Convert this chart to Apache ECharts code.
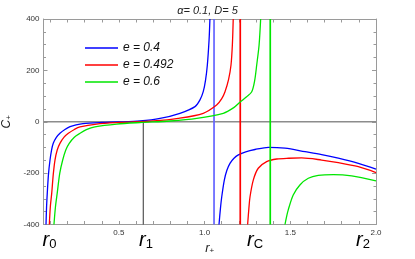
<!DOCTYPE html>
<html><head><meta charset="utf-8">
<script src="https://cdn.jsdelivr.net/npm/echarts@6/dist/echarts.min.js"></script>
<style>html,body{margin:0;padding:0;background:#fff}#c{width:415px;height:259px}</style>
</head><body><div id="c"></div>
<script>
// ---- axis settings ----
const X_MIN = 0.06, X_MAX = 2.0;
const Y_MIN = -400, Y_MAX = 400;
const xTickValues = [0.1, 0.2, 0.3, 0.4, 0.5, 0.6, 0.7, 0.8, 0.9, 1.0, 1.1, 1.2, 1.3, 1.4, 1.5, 1.6, 1.7, 1.8, 1.9, 2.0];
const xLabelValues = [0.5, 1.0, 1.5, 2.0];
const titleText = 'α= 0.1, D= 5';
const seriesNames = ['e = 0.4', 'e = 0.492', 'e = 0.6'];
const seriesColors = ['#0000ff', '#ff0000', '#00e600'];
const asymptoteColors = ['#6464ff', '#ff0000', '#00e600'];

// ---- e = 0.4 (blue) ----
const blueLeftR = [0.0746, 0.078, 0.082, 0.089, 0.098, 0.107, 0.117, 0.135, 0.156, 0.185, 0.215, 0.25, 0.29, 0.40, 0.50, 0.623, 0.740, 0.856, 0.944, 0.973, 0.992, 1.005, 1.016, 1.026, 1.031];
const blueLeftC = [-400, -330, -278, -205, -149, -110, -84, -61, -45, -30, -19, -12, -7, -3, -1, 3, 13, 33, 59, 85, 117, 160, 221, 318, 400];
const blueRightR = [1.084, 1.092, 1.100, 1.115, 1.130, 1.148, 1.170, 1.197, 1.240, 1.294, 1.372, 1.469, 1.586, 1.683, 1.780, 1.897, 2.0];
const blueRightC = [-400, -340, -292, -227, -189, -162, -143, -129, -117, -108, -99.5, -103, -116.5, -128, -142, -162, -184];

// ---- e = 0.492 (red) ----
const redLeftR = [0.094, 0.100, 0.108, 0.117, 0.127, 0.140, 0.156, 0.180, 0.205, 0.240, 0.273, 0.370, 0.506, 0.701, 0.846, 0.992, 1.070, 1.100, 1.119, 1.140, 1.154, 1.162, 1.167];
const redLeftC = [-400, -330, -278, -205, -149, -110, -84, -60, -45, -30, -20, -9, -3, 3, 13, 33, 65, 90, 117, 165, 221, 300, 400];
const redRightR = [1.251, 1.258, 1.265, 1.284, 1.313, 1.362, 1.421, 1.490, 1.566, 1.683, 1.780, 1.897, 2.0];
const redRightC = [-400, -340, -292, -227, -181, -155, -145, -142, -141, -149, -159, -175, -198];

// ---- e = 0.6 (green) ----
const greenLeftR = [0.121, 0.130, 0.140, 0.155, 0.172, 0.190, 0.210, 0.240, 0.273, 0.310, 0.360, 0.487, 0.623, 0.798, 0.954, 1.109, 1.170, 1.206, 1.245, 1.275, 1.292, 1.304, 1.318, 1.327];
const greenLeftC = [-400, -330, -278, -200, -149, -110, -84, -60, -45, -31, -20, -9, -3, 3, 13, 33, 55, 76, 97, 117, 160, 221, 300, 400];
const greenRightR = [1.469, 1.478, 1.488, 1.517, 1.556, 1.605, 1.663, 1.751, 1.858, 2.0];
const greenRightC = [-400, -370, -343, -285, -246, -220, -209, -206, -211, -230];

// ---- vertical marker lines ----
const asymptoteR = [1.055, 1.208, 1.383];
const r1LineR = 0.642;
const r1LineC = [0, -400];

// ---- special radius labels under the axis ----
const markSubs = ['0', '1', 'C', '2'];
const markR = [0.095, 0.658, 1.294, 1.924];

const zip = (rs, cs) => rs.map((r, i) => [r, cs[i]]);
const branches = [
  [zip(blueLeftR, blueLeftC), zip(blueRightR, blueRightC)],
  [zip(redLeftR, redLeftC), zip(redRightR, redRightC)],
  [zip(greenLeftR, greenLeftC), zip(greenRightR, greenRightC)]
];

const FONT = 'Liberation Sans';
const frameColor = '#9a9a9a';

const series = [];
series.push({
  type: 'line', name: 'zero', data: [[X_MIN, 0], [X_MAX, 0]], symbol: 'none', silent: true,
  lineStyle: { color: '#8c8c8c', width: 1.6 }, z: 1
});
series.push({
  type: 'line', name: 'r1', data: r1LineC.map(c => [r1LineR, c]), symbol: 'none', silent: true,
  lineStyle: { color: '#333', width: 1 }, z: 2
});
branches.forEach((br, i) => {
  br.forEach(d => {
    series.push({
      type: 'line', name: seriesNames[i], data: d, symbol: 'none', showSymbol: false,
      smooth: 0.3,
      lineStyle: { color: seriesColors[i], width: 1.3 }, itemStyle: { color: seriesColors[i] }, z: 3
    });
  });
  series.push({
    type: 'line', name: 'asym' + i, data: [[asymptoteR[i], Y_MIN], [asymptoteR[i], Y_MAX]], symbol: 'none',
    lineStyle: { color: asymptoteColors[i], width: 1.7 }, z: 3
  });
});

const tickStyle = { inside: true, length: 3.5, lineStyle: { color: frameColor }, customValues: xTickValues };
const option = {
  animation: false,
  backgroundColor: '#fff',
  title: {
    text: titleText, left: 'center', top: 0,
    textStyle: { fontFamily: FONT, fontSize: 11, fontStyle: 'italic', fontWeight: 'normal', color: '#222' }
  },
  legend: {
    data: seriesNames, orient: 'vertical', left: 80, top: 37, itemGap: 5,
    itemWidth: 33, itemHeight: 14, icon: 'path://M0,6.5L33,6.5L33,7.8L0,7.8Z',
    textStyle: { fontFamily: FONT, fontSize: 12, fontStyle: 'italic', color: '#111' }
  },
  grid: { left: 43.5, right: 39, top: 19, bottom: 34.5, outerBoundsMode: 'none' },
  xAxis: [
    {
      type: 'value', min: X_MIN, max: X_MAX,
      name: '{r|r}{s|+}', nameLocation: 'middle', nameGap: 17,
      nameTextStyle: { rich: {
        r: { fontFamily: FONT, fontSize: 13, fontStyle: 'italic', color: '#222', verticalAlign: 'bottom' },
        s: { fontFamily: FONT, fontSize: 8, color: '#222', verticalAlign: 'bottom' } } },
      axisLine: { onZero: false, lineStyle: { color: frameColor } }, axisTick: tickStyle,
      axisLabel: {
        fontFamily: FONT, fontSize: 8, color: '#333', margin: 4,
        customValues: xLabelValues, formatter: v => v.toFixed(1)
      },
      splitLine: { show: false }
    },
    {
      type: 'value', min: X_MIN, max: X_MAX, position: 'top',
      axisLine: { onZero: false, lineStyle: { color: frameColor } }, axisTick: tickStyle,
      axisLabel: { show: false }, splitLine: { show: false }
    }
  ],
  yAxis: [
    {
      type: 'value', min: Y_MIN, max: Y_MAX, interval: 200,
      name: '{c|C}{s|+}', nameLocation: 'middle', nameGap: 31, nameRotate: 90,
      nameTextStyle: { rich: {
        c: { fontFamily: FONT, fontSize: 12, fontStyle: 'italic', color: '#222', verticalAlign: 'bottom' },
        s: { fontFamily: FONT, fontSize: 8, color: '#222', verticalAlign: 'bottom' } } },
      axisLine: { show: true, onZero: false, lineStyle: { color: frameColor } },
      axisTick: { inside: true, length: 4, lineStyle: { color: frameColor } },
      minorTick: { show: true, splitNumber: 4, length: 2.5, lineStyle: { color: frameColor } },
      axisLabel: { fontFamily: FONT, fontSize: 8, color: '#333', margin: 4 },
      splitLine: { show: false }, minorSplitLine: { show: false }
    },
    {
      type: 'value', min: Y_MIN, max: Y_MAX, interval: 200, position: 'right',
      axisLine: { show: true, onZero: false, lineStyle: { color: frameColor } },
      axisTick: { inside: true, length: 4, lineStyle: { color: frameColor } },
      minorTick: { show: true, splitNumber: 4, length: 2.5, lineStyle: { color: frameColor } },
      axisLabel: { show: false }, splitLine: { show: false }, minorSplitLine: { show: false }
    }
  ],
  series: series
};

const chart = echarts.init(document.getElementById('c'), null, { renderer: 'canvas' });
chart.setOption(option);

const graphics = markR.map((r, i) => {
  const p = chart.convertToPixel({ xAxisIndex: 0, yAxisIndex: 0 }, [r, Y_MIN]);
  return {
    type: 'text', x: p[0], y: p[1] + 15,
    style: {
      text: '{r|r}{s|' + markSubs[i] + '}', align: 'center', verticalAlign: 'middle',
      rich: {
        r: { fontFamily: FONT, fontSize: 20, fontStyle: 'italic', color: '#767676', verticalAlign: 'bottom', lineHeight: 22 },
        s: { fontFamily: FONT, fontSize: 13, color: '#767676', verticalAlign: 'bottom', lineHeight: 13 }
      }
    }
  };
});
chart.setOption({ graphic: graphics });
</script>
</body></html>
